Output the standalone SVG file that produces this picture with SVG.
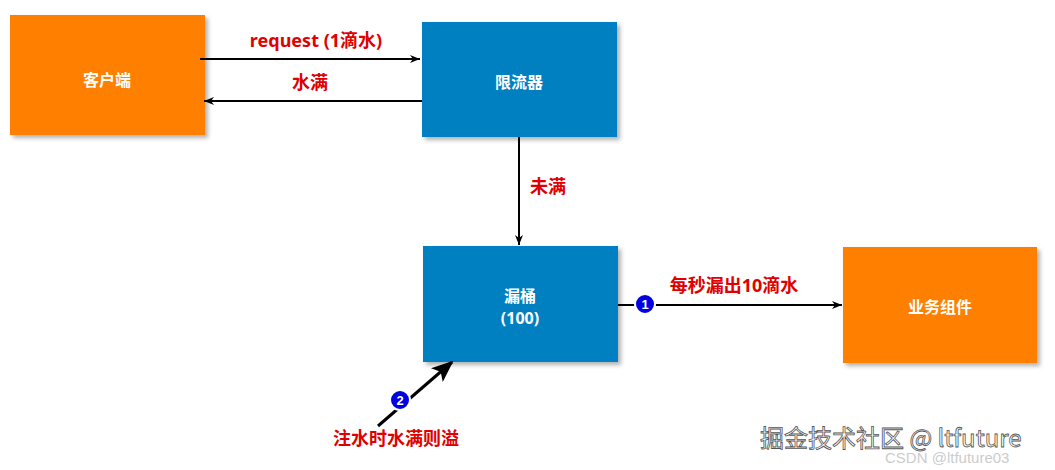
<svg xmlns="http://www.w3.org/2000/svg" width="1055" height="470" viewBox="0 0 1055 470">
<style>
.box{stroke:none;filter:url(#sh)}
.or{fill:#FF8000}.bl{fill:#0080C0}
.nt{font-family:"Noto Sans","Noto Sans CJK SC",sans-serif;font-size:16px;font-weight:bold;fill:#fff;text-anchor:middle}
.lb{font-family:"Noto Sans","Noto Sans CJK SC",sans-serif;font-size:18px;font-weight:bold;fill:#E00000;stroke:#fff;stroke-width:4;paint-order:stroke;stroke-linejoin:round;text-anchor:middle}
.ln{stroke:#000;stroke-width:2;fill:none}
.cn{fill:#0000E0;stroke:#fff;stroke-width:2}
.ct{font-family:"Liberation Sans",sans-serif;font-size:13px;font-weight:bold;fill:#fff;text-anchor:middle}
.wm{font-family:"Noto Sans CJK SC",sans-serif;font-size:24px;fill:#fff;stroke:#555;stroke-width:0.8}
</style>
<defs>
<filter id="sh" x="-10%" y="-10%" width="130%" height="130%"><feDropShadow dx="3" dy="3" stdDeviation="2" flood-color="#000" flood-opacity="0.3"/></filter>
<marker id="ar" markerWidth="10" markerHeight="8" refX="10" refY="4" orient="auto" markerUnits="userSpaceOnUse"><path d="M0,0L10,4L0,8L3,4z" fill="#000"/></marker>
<marker id="ab" markerWidth="22" markerHeight="18" refX="20" refY="9" orient="auto" markerUnits="userSpaceOnUse"><path d="M0,0L22,9L0,18L5,9z" fill="#000"/></marker>
</defs>
<g id="client"><rect class="box or" x="10" y="15" width="195" height="120"/><text class="nt" x="107" y="86">客户端</text></g>
<g id="limiter"><rect class="box bl" x="422" y="22" width="195" height="115"/><text class="nt" x="519" y="88">限流器</text></g>
<g id="bucket"><rect class="box bl" x="423" y="246" width="195" height="116"/><text class="nt" x="520" y="302">漏桶</text><text class="nt" x="520" y="324">(100)</text></g>
<g id="service"><rect class="box or" x="843" y="247" width="194" height="116"/><text class="nt" x="940" y="313">业务组件</text></g>
<g id="connectors">
<line class="ln" x1="200" y1="59" x2="420" y2="59" marker-end="url(#ar)"/>
<line class="ln" x1="422" y1="101" x2="204" y2="101" marker-end="url(#ar)"/>
<line class="ln" x1="519" y1="137" x2="519" y2="245" marker-end="url(#ar)"/>
<line class="ln" x1="618" y1="305" x2="842" y2="305" marker-end="url(#ar)"/>
<line x1="378" y1="426" x2="452" y2="362" stroke="#000" stroke-width="3" marker-end="url(#ab)"/>
<text class="lb" x="316" y="47">request (1滴水)</text>
<text class="lb" x="310" y="89">水满</text>
<text class="lb" x="548" y="193">未满</text>
<text class="lb" x="734" y="292">每秒漏出10滴水</text>
<text class="lb" x="396" y="445">注水时水满则溢</text>
<circle class="cn" cx="645" cy="304" r="10"/><text class="ct" x="645" y="309">1</text>
<circle class="cn" cx="400" cy="400" r="10"/><text class="ct" x="400" y="405">2</text>
</g>
<text class="wm" x="760" y="447">掘金技术社区 @ ltfuture</text>
<text x="885" y="463" font-family="Liberation Sans,sans-serif" font-size="15" fill="#ccc">CSDN @ltfuture03</text>
</svg>
